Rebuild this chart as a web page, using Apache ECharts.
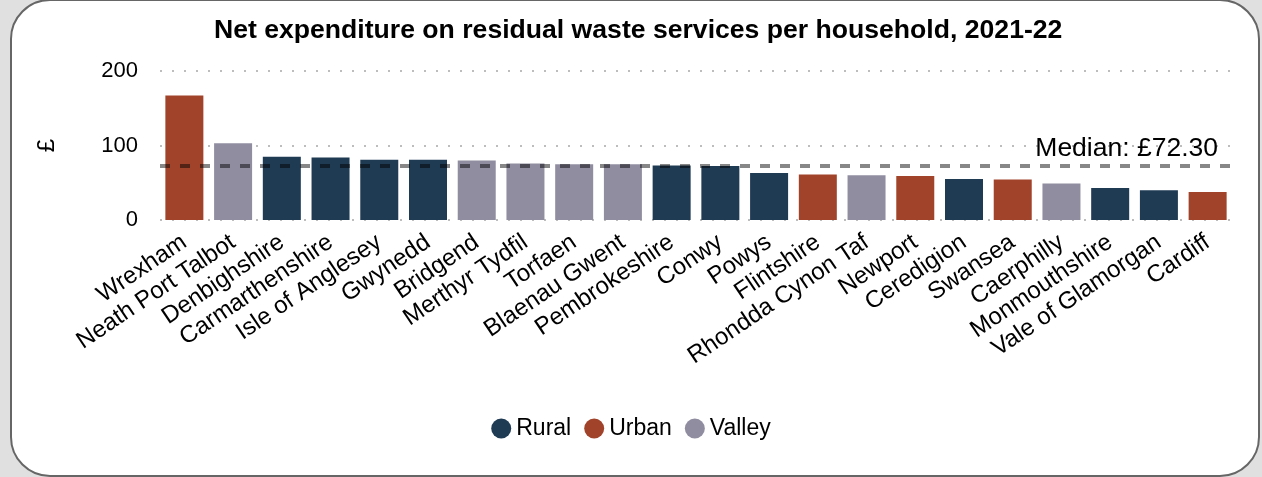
<!DOCTYPE html>
<html>
<head>
<meta charset="utf-8">
<script src="https://cdn.jsdelivr.net/npm/echarts@6/dist/echarts.min.js"></script>
<style>
  html, body { margin: 0; padding: 0; background: #e0e0e0; }
  #frame { position: absolute; left: 10px; top: -1px; width: 1246px; height: 474px; background: #fff; border: 2px solid #666; border-radius: 40px; box-sizing: content-box; }
  #chart { position: absolute; left: 0; top: 0; width: 1262px; height: 477px; }
</style>
</head>
<body>
<div id="frame"></div>
<div id="chart"></div>
<script>
const titleText = 'Net expenditure on residual waste services per household, 2021-22';
const categories = ['Wrexham','Neath Port Talbot','Denbighshire','Carmarthenshire','Isle of Anglesey','Gwynedd','Bridgend','Merthyr Tydfil','Torfaen','Blaenau Gwent','Pembrokeshire','Conwy','Powys','Flintshire','Rhondda Cynon Taf','Newport','Ceredigion','Swansea','Caerphilly','Monmouthshire','Vale of Glamorgan','Cardiff'];
const values = [167, 103, 85, 84, 81, 81, 80, 76, 75, 75, 73, 72.6, 63, 61, 60, 59, 55, 54.5, 49, 43, 40, 37.5];
const groups = ['Urban','Valley','Rural','Rural','Rural','Rural','Valley','Valley','Valley','Valley','Rural','Rural','Rural','Urban','Valley','Urban','Rural','Urban','Valley','Rural','Rural','Urban'];
const groupNames = ['Rural','Urban','Valley'];
const groupColors = ['#1f3a53','#a1432a','#908da0'];
const medianValue = 72.30;
const medianLabel = 'Median: £72.30';
const yTicks = [0, 100, 200];

const font = 'Liberation Sans, Arial, sans-serif';
const chart = echarts.init(document.getElementById('chart'), null, {renderer: 'canvas'});

const series = groupNames.map((g, gi) => ({
  name: g,
  type: 'bar',
  stack: 'all',
  barWidth: 38,
  itemStyle: { color: groupColors[gi] },
  data: values.map((v, i) => groups[i] === g ? v : '-')
}));
series[series.length - 1].markLine = {
  silent: true,
  symbol: 'none',
  z: 10,
  lineStyle: { color: 'rgba(0,0,0,0.47)', width: 4, type: [10, 10] },
  label: {
    show: true, position: 'insideEndTop', formatter: medianLabel,
    color: '#000', fontSize: 26.5, fontFamily: font, distance: [14, 4]
  },
  data: [{ yAxis: medianValue }]
};

chart.setOption({
  animation: false,
  title: {
    text: titleText, left: 209, top: 12,
    textStyle: { fontFamily: font, fontWeight: 'bold', fontSize: 26.6, color: '#000' }
  },
  legend: {
    data: groupNames, bottom: 32, left: 'center', icon: 'circle',
    itemWidth: 20, itemHeight: 20, itemGap: 13,
    textStyle: { fontFamily: font, fontSize: 23, color: '#000' }
  },
  grid: { left: 160, right: 30, top: 71, bottom: 257 },
  xAxis: {
    type: 'category', data: categories,
    axisLine: { show: false }, axisTick: { show: false },
    axisLabel: { rotate: 34, interval: 0, margin: 20, fontFamily: font, fontSize: 24, color: '#000' }
  },
  yAxis: {
    type: 'value', min: yTicks[0], max: yTicks[yTicks.length - 1], interval: 100,
    name: '£', nameLocation: 'middle', nameGap: 101, nameRotate: 90,
    nameTextStyle: { fontFamily: font, fontSize: 24, color: '#000' },
    axisLabel: { margin: 22, fontFamily: font, fontSize: 22, color: '#000' },
    splitLine: { lineStyle: { color: '#bdbdbd', width: 2, type: [2, 10] } }
  },
  series: series
});
</script>
</body>
</html>
